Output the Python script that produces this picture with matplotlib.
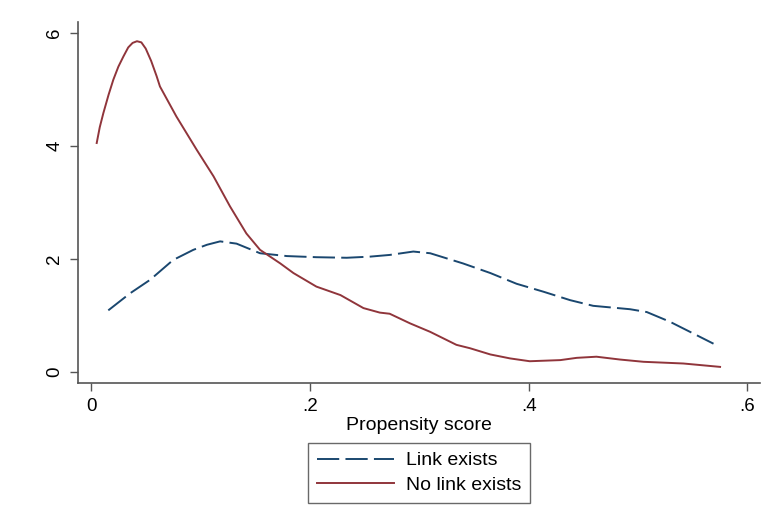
import matplotlib.pyplot as plt

plt.rcParams['font.family'] = ['Liberation Sans', 'DejaVu Sans']
plt.rcParams['lines.scale_dashes'] = False

# Link exists (kernel density)
link_x = [0.0158, 0.0356, 0.054, 0.075, 0.0935, 0.106, 0.118, 0.133, 0.1545, 0.179, 0.206,
          0.2337, 0.255, 0.273, 0.2946, 0.31, 0.34, 0.365, 0.389, 0.4135, 0.438,
          0.459, 0.4927, 0.508, 0.529, 0.5475, 0.569]
link_y = [1.09, 1.39, 1.63, 1.98, 2.16, 2.25, 2.31, 2.27, 2.10, 2.05, 2.03,
          2.02, 2.04, 2.07, 2.13, 2.10, 1.92, 1.75, 1.56, 1.42, 1.27,
          1.17, 1.11, 1.06, 0.89, 0.71, 0.50]

# No link exists
nolink_x = [0.0052, 0.008, 0.0113, 0.016, 0.0204, 0.025, 0.0296, 0.034, 0.038, 0.042,
            0.046, 0.050, 0.055, 0.060, 0.063, 0.078,
            0.0966, 0.112, 0.127, 0.142, 0.1545, 0.173, 0.185, 0.206, 0.228, 0.249,
            0.264, 0.273, 0.2916, 0.31, 0.334, 0.3464, 0.365, 0.383, 0.401, 0.429,
            0.444, 0.462, 0.4835, 0.505, 0.5414, 0.575]
nolink_y = [4.05, 4.33, 4.58, 4.90, 5.17, 5.40, 5.58, 5.74, 5.82, 5.85,
            5.83, 5.72, 5.50, 5.23, 5.05, 4.52,
            3.93, 3.46, 2.93, 2.45, 2.16, 1.92, 1.75, 1.51, 1.36, 1.13,
            1.05, 1.03, 0.86, 0.71, 0.48, 0.42, 0.31, 0.24, 0.19, 0.21,
            0.25, 0.27, 0.22, 0.18, 0.15, 0.09]

xticks = [0, 0.2, 0.4, 0.6]
xtick_labels = ['0', '.2', '.4', '.6']
yticks = [0, 2, 4, 6]

fig = plt.figure(figsize=(7.76, 5.29), dpi=100)
ax = fig.add_axes([78 / 776, 1 - 383 / 529, (760 - 78) / 776, (383 - 22) / 529])

ax.plot(link_x, link_y, color='#1a476f', lw=1.4, dashes=(16, 4.5), label='Link exists')
ax.plot(nolink_x, nolink_y, color='#90353b', lw=1.4, label='No link exists')

ax.set_xlim(-0.0119, 0.6115)
ax.set_ylim(-0.195, 6.19)
ax.set_xticks(xticks)
ax.set_xticklabels(xtick_labels)
ax.set_yticks(yticks)
ax.set_yticklabels([str(v) for v in yticks], rotation=90, va='center')

for s in ['top', 'right']:
    ax.spines[s].set_visible(False)
for s in ['left', 'bottom']:
    ax.spines[s].set_color('#555555')
    ax.spines[s].set_linewidth(1.2)
ax.tick_params(length=5.5, width=1, color='#555555', labelsize=13.5, pad=5)

ax.set_xlabel('Propensity score', fontsize=14, labelpad=2)

leg = fig.legend(loc='upper center', bbox_to_anchor=(419 / 776, 1 - 443 / 529),
                 fontsize=14, frameon=True, fancybox=False, handlelength=4.0,
                 handletextpad=0.6, labelspacing=0.36, borderpad=0.45,
                 borderaxespad=0)
leg.get_frame().set_edgecolor('#444444')
leg.get_frame().set_linewidth(1)

fig.savefig('out.png', dpi=100)
